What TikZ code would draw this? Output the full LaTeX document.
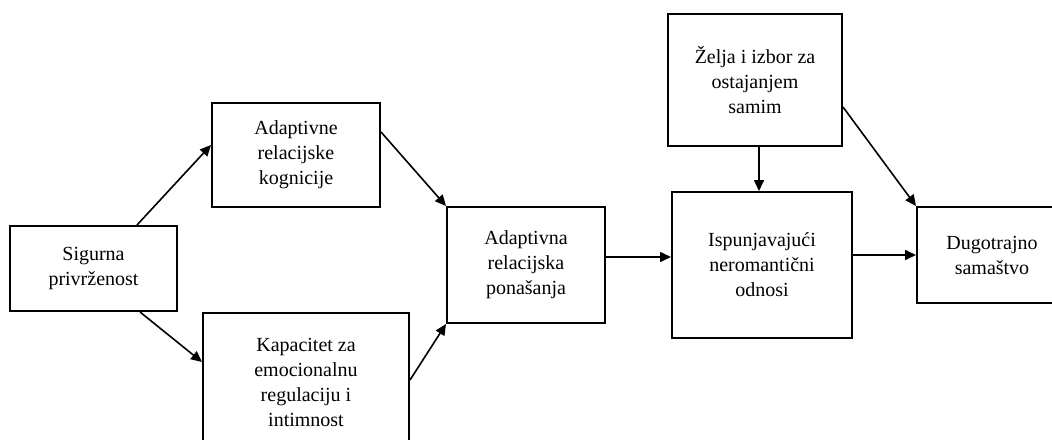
\documentclass[tikz,border=0pt]{standalone}
\usepackage{fontspec}
\setmainfont{Liberation Serif}
\usepackage{tikz}
\usetikzlibrary{positioning,calc,arrows.meta}

\begin{document}
\begin{tikzpicture} [x=0.5pt, y=-0.5pt,
        box/.style={draw, line width=1pt, align=center, inner sep=2pt,
          font=\fontsize{10}{12.5}\selectfont},
        arr/.style={line width=0.8pt, -{Triangle[length=5.5pt, width=5pt]}}]
        \clip (0,0) rectangle (1052,439);
        \node[box, minimum width=83.5pt, minimum height=42.5pt] (secure) at (93.5,268.5) {Sigurna\\privrženost};
        \node[box, minimum width=84pt, minimum height=52pt] (cogn) at (296,155) {Adaptivne\\relacijske\\kognicije};
        \node[box, minimum width=103pt, minimum height=69pt] (emreg) at (306,382) {Kapacitet za\\emocionalnu\\regulaciju i\\intimnost};
        \node[box, minimum width=79pt, minimum height=58pt] (behav) at (526,265) {Adaptivna\\relacijska\\ponašanja};
        \node[box, minimum width=87pt, minimum height=66pt] (wish) at (755,80) {Želja i izbor za\\ostajanjem\\samim};
        \node[box, minimum width=90pt, minimum height=73pt] (fulfil) at (762,265) {Ispunjavajući\\neromantični\\odnosi};
        \node[box, minimum width=75pt, minimum height=48pt] (single) at (992,255) {Dugotrajno\\samaštvo};
        \draw[arr] ($(secure.north)+(43.5,0)$) -- ($(cogn.west)+(0,-10)$);
        \draw[arr] ($(secure.south)+(46.5,0)$) -- ($(emreg.west)+(0,-20)$);
        \draw[arr] ($(cogn.east)+(0,-23)$) -- (behav.north west);
        \draw[arr] ($(emreg.east)+(0,-2)$) -- (behav.south west);
        \draw[arr] ($(behav.east)+(0,-8)$) -- ($(fulfil.west)+(0,-8)$);
        \draw[arr] (single.west -| fulfil.east) -- (single.west);
        \draw[arr] ($(wish.south)+(4,0)$) -- ($(fulfil.north)+(-3,0)$);
        \draw[arr] ($(wish.east)+(0,27)$) -- (single.north west);
      \end{tikzpicture}
\end{document}
